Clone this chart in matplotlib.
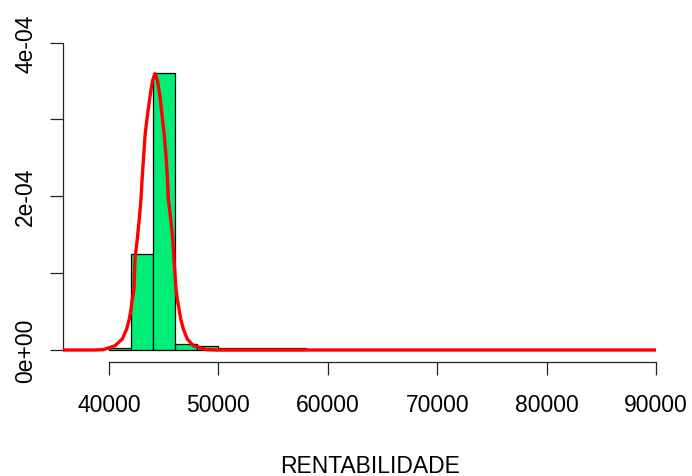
import matplotlib
matplotlib.use("Agg")
import matplotlib.pyplot as plt

# ---- data ----
bin_left = [40000, 42000, 44000, 46000, 48000, 50000, 52000, 54000, 56000]
bin_width = 2000
density = [2.2e-6, 1.245e-4, 3.605e-4, 8.2e-6, 4.8e-6, 2.4e-6, 2.3e-6, 2.3e-6, 2.3e-6]

curve_x = [35800, 38600, 39479, 40548, 41216, 41618, 41855, 42011, 42130, 42285,
           42376, 42587, 42770, 42925, 43044, 43172, 43291, 43519, 43747, 43976,
           44205,
           44433, 44662, 44844, 45055, 45210, 45329, 45420, 45640, 45823, 45941,
           46124, 46243, 46398, 46553, 46791, 47157, 47705, 48930, 50000, 90000]
curve_y = [0.0, 0.0, 0.4e-6, 5.6e-6, 1.43e-5, 2.74e-5, 4.04e-5, 5.34e-5, 6.64e-5, 7.95e-5,
           1.186e-4, 1.446e-4, 1.707e-4, 1.967e-4, 2.267e-4, 2.528e-4, 2.788e-4, 3.062e-4, 3.297e-4, 3.505e-4,
           3.596e-4,
           3.505e-4, 3.297e-4, 3.062e-4, 2.788e-4, 2.528e-4, 2.267e-4, 1.967e-4, 1.707e-4, 1.446e-4, 1.186e-4,
           7.95e-5, 6.64e-5, 5.34e-5, 4.04e-5, 2.74e-5, 1.43e-5, 5.6e-6, 0.4e-6, 0.0, 0.0]

x_ticks = [40000, 50000, 60000, 70000, 80000, 90000]
x_ticklabels = ["40000", "50000", "60000", "70000", "80000", "90000"]
y_ticks = [0.0, 1e-4, 2e-4, 3e-4, 4e-4]
y_ticklabels = ["0e+00", "", "2e-04", "", "4e-04"]
x_label = "RENTABILIDADE"

plt.rcParams["font.family"] = ["Liberation Sans", "DejaVu Sans"]
FS = 16.5

fig = plt.figure(figsize=(6.92, 4.77), dpi=100)
L, R, B, T = 63, 678, 363, 39
ax = fig.add_axes([L / 692, 1 - B / 477, (R - L) / 692, (B - T) / 477])

ax.bar(bin_left, density, width=bin_width, align="edge", color="#00EE76",
       edgecolor="black", linewidth=0.9, zorder=2)
ax.plot(curve_x, curve_y, color="red", lw=2.4, zorder=3,
        solid_joinstyle="round", solid_capstyle="butt")

ax.set_xlim(35795, 92011)
ax.set_ylim(-1.56e-5, 4.06e-4)

for s in ["top", "right"]:
    ax.spines[s].set_visible(False)
ax.spines["left"].set_bounds(y_ticks[0], y_ticks[-1])
ax.spines["bottom"].set_bounds(x_ticks[0], x_ticks[-1])
for s in ["left", "bottom"]:
    ax.spines[s].set_linewidth(0.9)
    ax.spines[s].set_color("#222222")

ax.set_xticks(x_ticks)
ax.set_xticklabels(x_ticklabels, fontsize=FS)
ax.set_yticks(y_ticks)
ax.set_yticklabels(y_ticklabels, fontsize=FS, rotation=90, va="center")
ax.tick_params(axis="both", length=9.5, width=0.9, color="#222222")
ax.tick_params(axis="x", pad=13)
ax.tick_params(axis="y", pad=9)

ax.set_xlabel(x_label, fontsize=FS)
ax.xaxis.set_label_coords(0.5, (B - 467) / (B - T))
ax.xaxis.label.set_va("center")

fig.savefig("out.png", dpi=100)
